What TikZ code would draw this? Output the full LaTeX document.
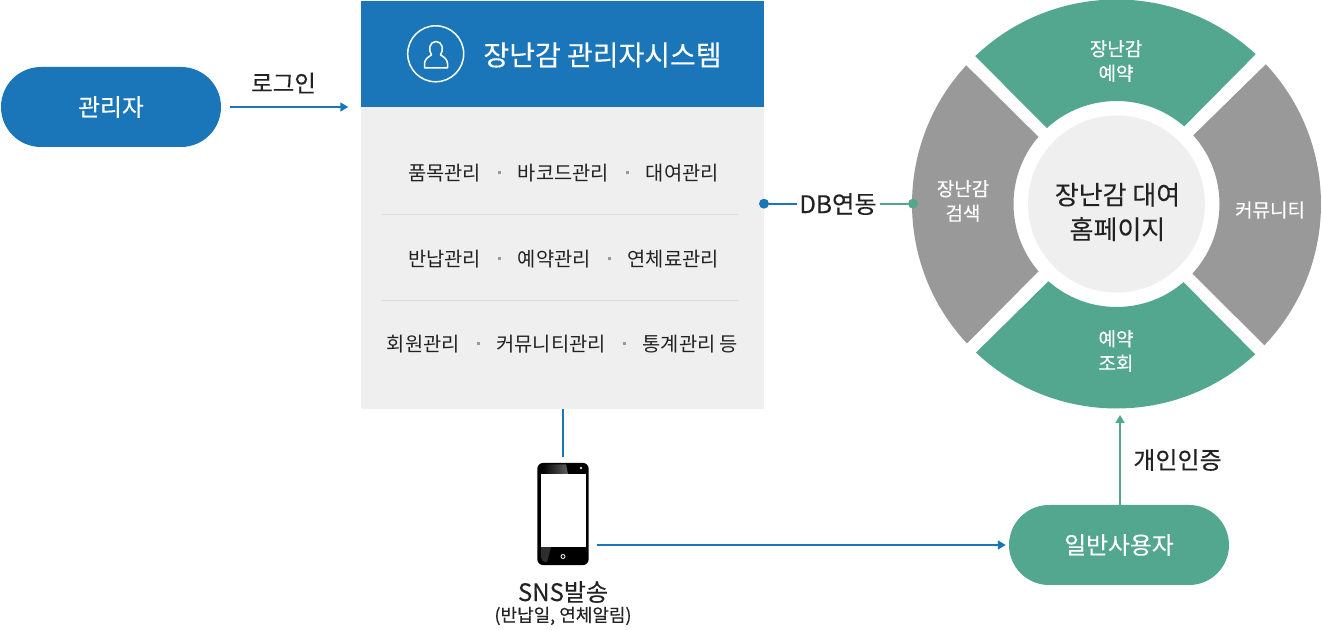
\documentclass[tikz,border=0pt]{standalone}
\usepackage{fontspec}
\setmainfont{Noto Sans CJK KR}
\newfontfamily\wbf[FakeBold=0.25]{Noto Sans CJK KR}
\newfontfamily\dbf[FakeBold=0.12]{Noto Sans CJK KR}
\usetikzlibrary{arrows.meta}
\definecolor{cblue}{HTML}{1A75B9}
\definecolor{cgreen}{HTML}{53A78E}
\definecolor{cgray}{HTML}{999999}
\definecolor{clight}{HTML}{EFEFEF}
\definecolor{ctext}{HTML}{222222}
\definecolor{csep}{HTML}{DDDDDD}
\newcommand{\fs}[1]{\fontsize{#1pt}{#1pt}\selectfont}
\newcommand{\rdot}{\hspace{16.9pt}\raisebox{6pt}{\textcolor{cgray}{\rule{3pt}{3pt}}}\hspace{16.9pt}}
\tikzset{
  pill/.style={rounded corners=40pt,minimum width=220pt,minimum height=80pt,inner sep=0pt,text=white,font=\wbf\fs{23.8}},
  seg/.style={text=white,font=\wbf\fontsize{19pt}{24.5pt}\selectfont,align=center,inner sep=0pt},
  row/.style={text=ctext,font=\fs{19.8},inner sep=0pt},
  lab/.style={text=ctext,inner sep=0pt},
  tip/.style={-{Triangle[length=8pt,width=9pt]}},
  dot/.style={circle,inner sep=0pt,minimum size=10pt},
  sepline/.style={csep,line width=.9pt},
  conn/.style={line width=1.7pt}
}
\begin{document}
\begin{tikzpicture}[x=1pt,y=1pt]
\useasboundingbox (0,0) rectangle (1322,629);
% body box and header
\node[fill=clight,minimum width=403pt,minimum height=302pt,inner sep=0pt] (body) at (562.5,371) {};
\node[fill=cblue,minimum width=403pt,minimum height=106pt,inner sep=0pt] (head) at (562.5,575) {};
\node[text=white,font=\wbf\fs{28},inner sep=0pt] (headt) at (602.5,574) {장난감 관리자시스템};
\node[circle,draw=white,line width=1.5pt,minimum size=56pt,inner sep=0pt] (usr) at (435.7,575.2) {};
\draw[white,line width=1.5pt,line join=round] (424.5,561) -- (447.5,561) -- (447.5,565.5) .. controls (447.5,570) and (443,572.5) .. (440.5,574) .. controls (444,579) and (442.5,587.5) .. (436,587.5) .. controls (429.5,587.5) and (428,579) .. (431.5,574) .. controls (429,572.5) and (424.5,570) .. (424.5,565.5) -- cycle;
% rows
\node[row] (r1) at (563.5,456) {품목관리\rdot 바코드관리\rdot 대여관리};
\node[row] (r2) at (563.5,370) {반납관리\rdot 예약관리\rdot 연체료관리};
\node[row] (r3) at (562.5,285) {회원관리\rdot 커뮤니티관리\rdot 통계관리 등};
\coordinate (s1a) at (381,415); \coordinate (s1b) at (739,415);
\coordinate (s2a) at (381,329); \coordinate (s2b) at (739,329);
\draw[sepline] (s1a) -- (s1b);
\draw[sepline] (s2a) -- (s2b);
% admin
\node[pill,fill=cblue] (admin) at (111,522) {관리자};
\node[lab,font=\dbf\fs{23.5}] (login) at (283.5,546) {로그인};
\draw[cblue,tip,line width=1.6pt,shorten <=9pt,shorten >=12.5pt,yshift=-.6pt] (admin.east) -- (admin.east -| body.west);
% wheel
\coordinate (c) at (1116.5,425);
\fill[cgreen] ([shift={(c)}]133.7:204.5pt) arc[start angle=133.7,end angle=47.1,radius=204.5pt] -- ([shift={(c)}]48.9:103pt) arc[start angle=48.9,end angle=132.5,radius=103pt] -- cycle;
\fill[cgray] ([shift={(c)}]137.3:204.5pt) arc[start angle=137.3,end angle=223,radius=204.5pt] -- ([shift={(c)}]220.8:103pt) arc[start angle=220.8,end angle=139.3,radius=103pt] -- cycle;
\fill[cgreen] ([shift={(c)}]226.6:204.5pt) arc[start angle=226.6,end angle=312.7,radius=204.5pt] -- ([shift={(c)}]310.6:103pt) arc[start angle=310.6,end angle=228.6,radius=103pt] -- cycle;
\fill[cgray] ([shift={(c)}]43.1:204.5pt) arc[start angle=43.1,end angle=-43.7,radius=204.5pt] -- ([shift={(c)}]-42.5:103pt) arc[start angle=-42.5,end angle=41.8,radius=103pt] -- cycle;
\node[circle,fill=clight,minimum size=177pt,inner sep=0pt] (hub) at (c) {};
\node[lab,align=center,font=\dbf\fontsize{26pt}{34.5pt}\selectfont] (hubt) at (1117.5,417) {장난감 대여\\홈페이지};
\node[seg] (s1) at (1116,568) {장난감\\예약};
\node[seg] (s2) at (963,428) {장난감\\검색};
\node[seg] (s3) at (1270,419) {커뮤니티};
\node[seg] (s4) at (1116,278) {예약\\조회};
% DB link
\node[lab,font=\dbf\fs{24.3}] (db) at (838,425) {DB연동};
\node[dot,fill=cblue] (d1) at (764,425.3) {};
\node[dot,fill=cgreen] (d2) at (913,425.3) {};
\draw[conn,cblue,shorten >=2pt] (d1) -- (db.west |- d1);
\draw[conn,cgreen,shorten <=3pt] (db.east |- d2) -- (d2);
% phone
\node[rounded corners=6pt,fill=black,minimum width=51.4pt,minimum height=102.3pt,inner sep=0pt] (phone) at (563,115) {};
\fill[black!82] (541,82) -- (551,82) -- (547,66.5) .. controls (543,67) and (541,69) .. (541,73) -- cycle;
\shade[left color=black,right color=black!62] (542,155) -- (568,155) -- (566,164.5) -- (542,164.5) -- cycle;
\fill[white] (541,81.7) rectangle (585.7,155);
\fill[white!85!black] (581,161) circle (1.3pt);
\draw[white,line width=.8pt] (563,72.5) circle (2pt);
\node[lab,font=\dbf\fs{24}] (sns) at (563,37) {SNS발송};
\node[lab,font=\dbf\fs{18}] (snsb) at (563,13) {(반납일, 연체알림)};
\draw[cblue,line width=2pt,shorten >=6pt] (phone.north |- body.south) -- (phone.north);
% user
\node[pill,fill=cgreen] (user) at (1119,84) {일반사용자};
\coordinate (ph) at (phone.east |- user.west);
\draw[cblue,tip,line width=1.6pt,shorten <=8.5pt,shorten >=3pt] (ph) -- (user.west);
\coordinate (wb) at (1120,214);
\draw[cgreen,tip,line width=1.8pt] (wb |- user.north) -- (wb);
\node[lab,font=\dbf\fs{24}] (auth) at (1177.5,169) {개인인증};
\end{tikzpicture}
\end{document}
